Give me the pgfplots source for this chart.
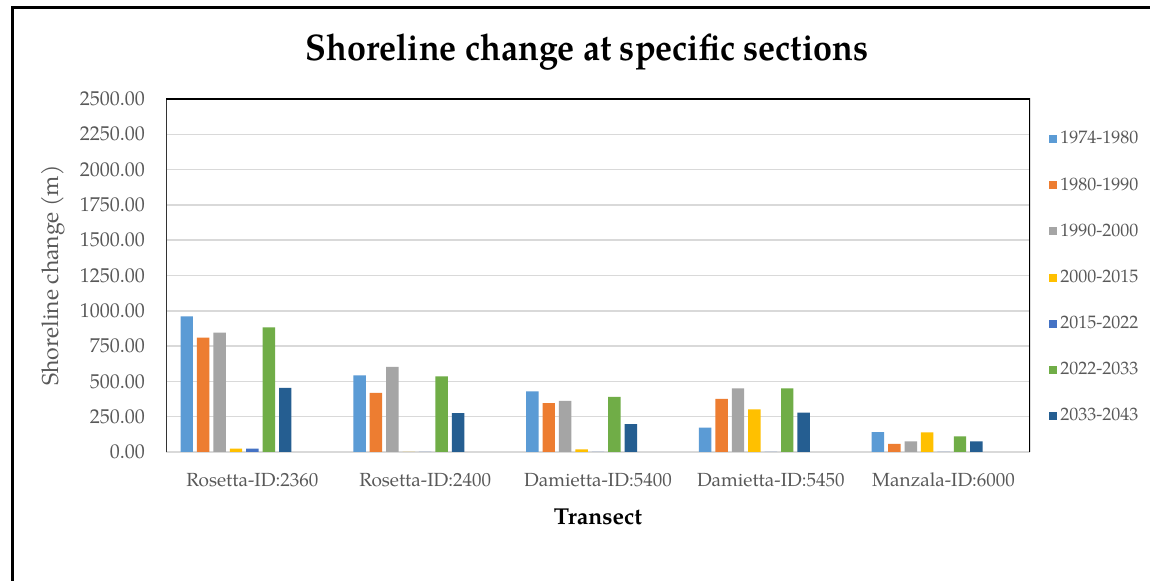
\documentclass[border=0pt]{standalone}
\usepackage{pgfplots}
\pgfplotsset{compat=1.18}
\usepackage{fontspec}
\setmainfont{TeX Gyre Pagella}

\definecolor{cA}{HTML}{5B9BD5}
\definecolor{cB}{HTML}{ED7D31}
\definecolor{cC}{HTML}{A5A5A5}
\definecolor{cD}{HTML}{FFC000}
\definecolor{cE}{HTML}{4472C4}
\definecolor{cF}{HTML}{70AD47}
\definecolor{cG}{HTML}{255E91}
\definecolor{txtgray}{HTML}{595959}
\definecolor{gridgray}{HTML}{D9D9D9}

\begin{document}
\begin{tikzpicture}
\useasboundingbox (0pt,0pt) rectangle (575pt,-290.5pt);
\fill[white] (0pt,0pt) rectangle (575pt,-290.5pt);
% outer chart frame
\draw[black, line width=1.5pt] (6pt,-290.5pt) -- (6pt,-4pt) -- (575pt,-4pt);
% chart title
\node[font=\bfseries\fontsize{18.5}{22}\selectfont, text=black, xscale=0.92] at (293.5pt,-26pt)
  {Shoreline change at specific sections};

\begin{axis}[
  at={(83pt,-226pt)}, anchor=south west,
  scale only axis, width=432pt, height=176.5pt,
  xmin=-0.5, xmax=4.5, ymin=0, ymax=2500,
  ybar, bar width=0.072,
  xtick={0,1,2,3,4},
  xticklabels={Rosetta-ID:2360, Rosetta-ID:2400, Damietta-ID:5400, Damietta-ID:5450, Manzala-ID:6000},
  ytick={0,250,...,2500},
  major tick length=0pt,
  axis line style={draw=none},
  ymajorgrids, grid style={gridgray, line width=0.75pt},
  /pgf/number format/assume math mode=true,
  yticklabel={\pgfmathprintnumber[fixed, fixed zerofill, precision=2, 1000 sep={}]{\tick}},
  yticklabel style={font=\fontsize{10}{12}\selectfont, text=txtgray, anchor=east, xshift=-7pt},
  xticklabel style={font=\fontsize{9.5}{11}\selectfont, text=txtgray, anchor=north, yshift=-7pt},
  xlabel={Transect},
  xlabel style={at={(axis description cs:0.5,-0.184)}, anchor=center, font=\bfseries\fontsize{11.5}{13}\selectfont, text=black},
  ylabel={Shoreline change (m)},
  ylabel style={at={(axis description cs:-0.131,0.5)}, anchor=center, font=\fontsize{11.5}{13}\selectfont, text=txtgray},
  legend style={at={(1.022,0.918)}, anchor=north west, draw=none, fill=none,
    font=\fontsize{9}{11}\selectfont, text=txtgray, row sep=12.35pt, inner sep=0pt,
    nodes={inner sep=1.5pt}},
  legend cell align=left,
  legend image code/.code={\fill[#1] (-3pt,-2pt) rectangle (1pt,2pt);},
]
\addplot[fill=cA, draw=none, bar shift=-0.380] coordinates {(0,960) (1,543) (2,430) (3,172) (4,140)};
\addplot[fill=cB, draw=none, bar shift=-0.285] coordinates {(0,810) (1,418) (2,347) (3,376) (4,58)};
\addplot[fill=cC, draw=none, bar shift=-0.190] coordinates {(0,845) (1,602) (2,362) (3,451) (4,76)};
\addplot[fill=cD, draw=none, bar shift=-0.095] coordinates {(0,24) (1,0) (2,19) (3,301) (4,139)};
\addplot[fill=cE, draw=none, bar shift=0] coordinates {(0,24) (1,0) (2,0) (3,0) (4,0)};
\addplot[fill=cF, draw=none, bar shift=0.095] coordinates {(0,882) (1,536) (2,391) (3,451) (4,111)};
\addplot[fill=cG, draw=none, bar shift=0.190] coordinates {(0,455) (1,275) (2,197) (3,279) (4,76)};
\legend{1974-1980, 1980-1990, 1990-2000, 2000-2015, 2015-2022, 2022-2033, 2033-2043}
% plot-area frame
\draw[black!80, line width=1pt] (rel axis cs:0,0) -- (rel axis cs:0,1);
\draw[black, line width=1pt] (rel axis cs:0,1) -- (rel axis cs:1,1) -- (rel axis cs:1,0);
\end{axis}
\end{tikzpicture}
\end{document}
